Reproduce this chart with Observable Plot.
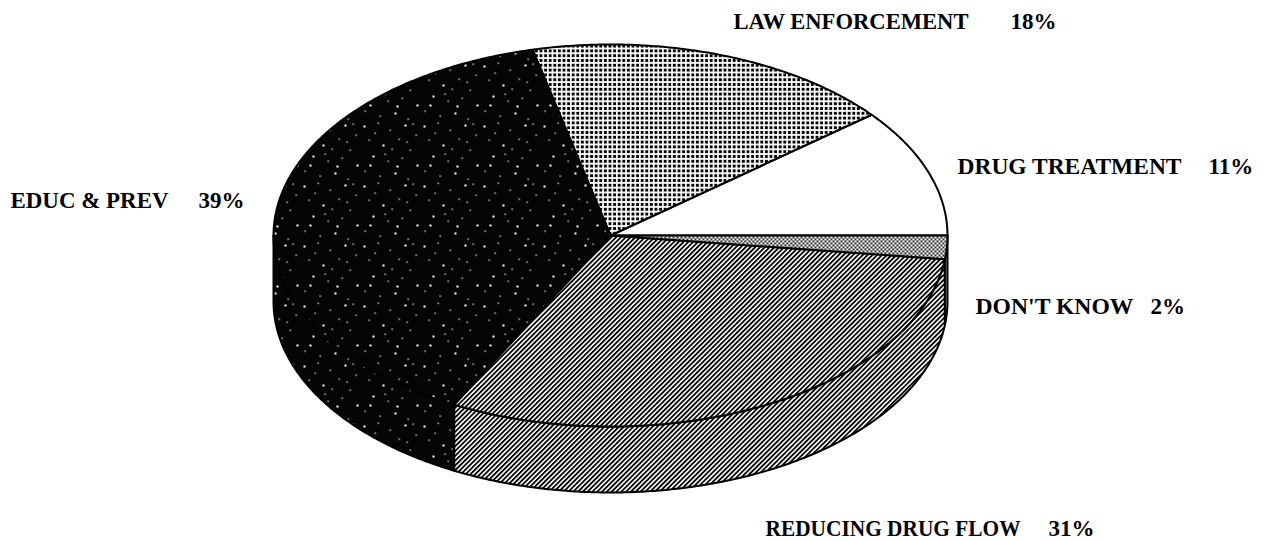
<!DOCTYPE html>
<html>
<head>
<meta charset="utf-8">
<script src="https://cdn.jsdelivr.net/npm/d3@7"></script>
<script src="https://cdn.jsdelivr.net/npm/@observablehq/plot@0.6"></script>
<style>
  html, body { margin: 0; padding: 0; background: #fff; }
  #chart svg { display: block; }
</style>
</head>
<body>
<div id="chart"></div>
<script>
// ---- data ----
const categories = ["DRUG TREATMENT", "LAW ENFORCEMENT", "EDUC & PREV", "REDUCING DRUG FLOW", "DON'T KNOW"];
const values = [11, 18, 39, 31, 2];

// ---- styles (pattern fills per slice) ----
const sliceFills = ["#ffffff", "url(#dots)", "url(#specks)", "url(#hatch)", "url(#checker)"];

// ---- layout ----
const W = 1272, H = 541;
const pie = { cx: 610, cy: 235, rx: 337, ry: 191, depth: 66 };
// label anchors: [name x, name width, percent x, baseline y] per category
const labelLayout = [
  [957, 224, 1208, 173],
  [733, 235, 1010, 28],
  [10, 158, 198, 207],
  [765, 255, 1048, 535],
  [975, 158, 1150, 313]
];

// ---- geometry from the values ----
const total = d3.sum(values);
let acc = 0;
const slices = values.map((v, i) => {
  const a0 = acc / total * 2 * Math.PI;
  acc += v;
  const a1 = acc / total * 2 * Math.PI;
  return { i, a0, a1 };
});
const px = a => pie.cx + pie.rx * Math.cos(a);
const py = (a, h) => pie.cy - pie.ry * Math.sin(a) + h * pie.depth;
function arc(a0, a1, h) {
  const n = Math.max(2, Math.ceil((a1 - a0) / (Math.PI / 360)) + 1);
  const pts = [];
  for (let k = 0; k < n; k++) {
    const a = a0 + (a1 - a0) * k / (n - 1);
    pts.push([px(a), py(a, h)]);
  }
  return pts;
}
const rows = [];
// side walls (front half only)
slices.forEach(s => {
  const b0 = Math.max(s.a0, Math.PI), b1 = Math.min(s.a1, 2 * Math.PI);
  if (b1 > b0) {
    const pts = arc(b0, b1, 0).concat(arc(b0, b1, 1).reverse());
    pts.forEach(([x, y]) => rows.push({ face: "wall" + s.i, x, y, fill: sliceFills[s.i] }));
  }
});
// top faces
slices.forEach(s => {
  const pts = [[pie.cx, pie.cy]].concat(arc(s.a0, s.a1, 0));
  pts.forEach(([x, y]) => rows.push({ face: "top" + s.i, x, y, fill: sliceFills[s.i] }));
});

const names = categories.map((c, i) => ({ x: labelLayout[i][0], y: labelLayout[i][3], text: c, w: labelLayout[i][1] }));
const pcts = values.map((v, i) => ({ x: labelLayout[i][2], y: labelLayout[i][3], text: v + "%" }));

const textStyle = {
  x: "x", y: "y", text: "text",
  textAnchor: "start", lineAnchor: "bottom",
  fontFamily: "'Liberation Serif', 'Times New Roman', serif",
  fontWeight: "bold", fontSize: 23, fill: "#000"
};

const svg = Plot.plot({
  width: W,
  height: H,
  margin: 0,
  x: { domain: [0, W], range: [0, W], axis: null },
  y: { domain: [0, H], range: [0, H], axis: null },
  color: { type: "identity" },
  style: { background: "#fff" },
  marks: [
    Plot.line(rows, {
      x: "x", y: "y", z: "face", fill: "fill",
      stroke: "#000", strokeWidth: 2, curve: "linear-closed", strokeLinejoin: "round"
    }),
    Plot.text(names, { ...textStyle, className: "cat-name" }),
    Plot.text(pcts, textStyle)
  ]
});

// fit category names to the widths they have in the original
d3.select(svg).selectAll("g.cat-name text").each(function (d, k) {
  this.setAttribute("textLength", names[k].w);
  this.setAttribute("lengthAdjust", "spacingAndGlyphs");
});

// pattern definitions
const speckPts = [[3,5],[17,2],[29,9],[44,4],[55,14],[8,19],[22,24],[38,18],[49,29],[12,35],[27,40],[41,37],[56,44],[4,50],[19,55],[34,52],[47,58],[31,28],[9,44],[52,3],[14,12],[36,45],[24,33],[46,21]];
const speckSvg = speckPts.map(([x, y], k) => `<rect x="${x}" y="${y}" width="${k % 3 === 0 ? 2 : 1.3}" height="${k % 3 === 0 ? 2 : 1.3}" fill="#fff"/>`).join("");
d3.select(svg).insert("defs", ":first-child").html(`
  <pattern id="dots" width="4.6" height="4.8" patternUnits="userSpaceOnUse">
    <rect width="4.6" height="4.8" fill="#fff"/>
    <rect x="0.8" y="0.9" width="2.9" height="2.9" fill="#000"/>
  </pattern>
  <pattern id="hatch" width="3.4" height="3.4" patternUnits="userSpaceOnUse" patternTransform="rotate(45)">
    <rect width="3.4" height="3.4" fill="#fff"/>
    <rect width="1.8" height="3.4" fill="#000"/>
  </pattern>
  <pattern id="checker" width="4" height="4" patternUnits="userSpaceOnUse">
    <rect width="4" height="4" fill="#fff"/>
    <rect x="0" y="0" width="1.8" height="1.8" fill="#000"/>
    <rect x="2" y="2" width="1.8" height="1.8" fill="#000"/>
  </pattern>
  <pattern id="specks" width="60" height="60" patternUnits="userSpaceOnUse">
    <rect width="60" height="60" fill="#050505"/>
    ${speckSvg}
  </pattern>
`);

document.getElementById("chart").appendChild(svg);
</script>
</body>
</html>
